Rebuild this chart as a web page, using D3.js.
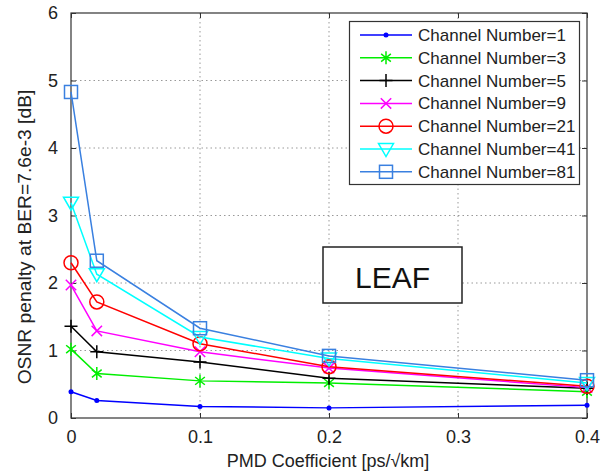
<!DOCTYPE html>
<html>
<head>
<meta charset="UTF-8">
<title>OSNR penalty vs PMD</title>
<style>
    body { margin: 0; background: #fff; }
    svg { font-family: "Liberation Sans", Arial, sans-serif; }
    .grid line { stroke: #999; stroke-dasharray: 1.5 3; }
    .tick text { font-size: 18px; fill: #222; }
</style>
<script src="https://d3js.org/d3.v7.min.js"></script>
</head>
<body>
<svg id="chart" width="610" height="475"></svg>
<script>
// data
const pmd = [0, 0.02, 0.1, 0.2, 0.4];
const channels = ["1", "3", "5", "9", "21", "41", "81"];
const ch1 = [0.39, 0.26, 0.17, 0.15, 0.19];
const ch3 = [1.02, 0.66, 0.55, 0.52, 0.39];
const ch5 = [1.36, 0.98, 0.83, 0.59, 0.44];
const ch9 = [1.97, 1.29, 0.98, 0.74, 0.45];
const ch21 = [2.30, 1.72, 1.10, 0.76, 0.47];
const ch41 = [3.19, 2.13, 1.20, 0.88, 0.52];
const ch81 = [4.83, 2.33, 1.33, 0.92, 0.56];
const xTicks = [0, 0.1, 0.2, 0.3, 0.4];
const yTicks = [0, 1, 2, 3, 4, 5, 6];

const series = [ch1, ch3, ch5, ch9, ch21, ch41, ch81];
const colors = ["#0000ff", "#00ee00", "#000000", "#ff00ff", "#ff0000", "#00ffff", "#3a80e0"];
const markers = ["dot", "star", "plus", "cross", "circle", "tri", "square"];

const svg = d3.select('#chart');
const m = {left: 71, top: 13, right: 587, bottom: 418};

const x = d3.scaleLinear().domain([0, 0.4]).range([m.left, m.right]);
const y = d3.scaleLinear().domain([0, 6]).range([m.bottom, m.top]);

// grid
const grid = svg.append('g').classed('grid', true);
grid.selectAll('.gx').data(xTicks.slice(1, -1)).enter().append('line')
    .attr('x1', d => x(d)).attr('x2', d => x(d))
    .attr('y1', m.top).attr('y2', m.bottom);
grid.selectAll('.gy').data(yTicks.slice(1, -1)).enter().append('line')
    .attr('x1', m.left).attr('x2', m.right)
    .attr('y1', d => y(d)).attr('y2', d => y(d));

// axes (matlab style, ticks inside, on all four sides)
svg.append('g').attr('transform', `translate(0,${m.bottom})`)
    .call(d3.axisBottom(x).tickValues(xTicks).tickSize(-5).tickPadding(12)
        .tickFormat(d => d === 0 ? '0' : d3.format('.1f')(d)))
    .call(g => g.select('.domain').remove());
svg.append('g').attr('transform', `translate(${m.left},0)`)
    .call(d3.axisLeft(y).tickValues(yTicks).tickSize(-5).tickPadding(13).tickFormat(d3.format('d')))
    .call(g => g.select('.domain').remove());
svg.append('g').attr('transform', `translate(0,${m.top})`)
    .call(d3.axisTop(x).tickValues(xTicks).tickSize(-5).tickFormat(''))
    .call(g => g.select('.domain').remove());
svg.append('g').attr('transform', `translate(${m.right},0)`)
    .call(d3.axisRight(y).tickValues(yTicks).tickSize(-5).tickFormat(''))
    .call(g => g.select('.domain').remove());
svg.selectAll('.tick line').attr('stroke', '#333');

svg.append('rect')
    .attr('x', m.left).attr('y', m.top)
    .attr('width', m.right - m.left).attr('height', m.bottom - m.top)
    .attr('fill', 'none').attr('stroke', '#333').attr('stroke-width', 1.2);

// marker shapes
function marker(g, type, color) {
    const s = 6.5;
    if (type === 'dot') {
        g.append('circle').attr('r', 2.5).attr('fill', color);
    } else if (type === 'circle') {
        g.append('circle').attr('r', s + 0.5).attr('fill', 'none').attr('stroke', color).attr('stroke-width', 1.5);
    } else if (type === 'square') {
        g.append('rect').attr('x', -s).attr('y', -s).attr('width', 2 * s).attr('height', 2 * s)
            .attr('fill', 'none').attr('stroke', color).attr('stroke-width', 1.5);
    } else if (type === 'tri') {
        g.append('path').attr('d', `M${-s - 1},${-s + 1}L${s + 1},${-s + 1}L0,${s + 1}Z`)
            .attr('fill', 'none').attr('stroke', color).attr('stroke-width', 1.5);
    } else {
        let p = '';
        if (type === 'plus') p = `M${-s},0L${s},0M0,${-s}L0,${s}`;
        if (type === 'cross') {
            const c = s * 0.8;
            p = `M${-c},${-c}L${c},${c}M${-c},${c}L${c},${-c}`;
        }
        if (type === 'star') p = `M0,${-s}L0,${s}` + `M${-s*0.75},${-s*0.6}L${s*0.75},${s*0.6}M${-s*0.75},${s*0.6}L${s*0.75},${-s*0.6}`;
        g.append('path').attr('d', p).attr('stroke', color).attr('stroke-width', 1.5).attr('fill', 'none');
    }
}

const line = d3.line().x((d, i) => x(pmd[i])).y(d => y(d));

series.forEach((vals, k) => {
    svg.append('path').datum(vals)
        .attr('d', line)
        .attr('fill', 'none')
        .attr('stroke', colors[k])
        .attr('stroke-width', 1.5);
    svg.selectAll('.mk' + k).data(vals).enter().append('g')
        .attr('transform', (d, i) => `translate(${x(pmd[i])},${y(d)})`)
        .each(function () { marker(d3.select(this), markers[k], colors[k]); });
});

// legend
const leg = svg.append('g');
leg.append('rect').attr('x', 349.5).attr('y', 21.5).attr('width', 230).attr('height', 163)
    .attr('fill', '#fff').attr('stroke', '#333').attr('stroke-width', 1.2);
channels.forEach((c, k) => {
    const ly = 35 + k * 22.8;
    leg.append('line').attr('x1', 360).attr('x2', 412).attr('y1', ly).attr('y2', ly)
        .attr('stroke', colors[k]).attr('stroke-width', 1.5);
    marker(leg.append('g').attr('transform', `translate(386,${ly})`), markers[k], colors[k]);
    leg.append('text').attr('x', 418).attr('y', ly + 6)
        .attr('font-size', 17).attr('fill', '#222')
        .text('Channel Number=' + c);
});

// LEAF label box
svg.append('rect').attr('x', 323).attr('y', 247).attr('width', 139).attr('height', 56)
    .attr('fill', '#fff').attr('stroke', '#222').attr('stroke-width', 1.5);
svg.append('text').attr('x', 392.5).attr('y', 288).attr('text-anchor', 'middle')
    .attr('font-size', 30).attr('fill', '#111').text('LEAF');

// axis titles
svg.append('text').attr('x', 328).attr('y', 467)
    .attr('text-anchor', 'middle').attr('font-size', 18).attr('fill', '#222')
    .text('PMD Coefficient [ps/\u221Akm]');
svg.append('text').attr('transform', `translate(31,237) rotate(-90) scale(1.07,1)`)
    .attr('text-anchor', 'middle').attr('font-size', 18).attr('fill', '#222')
    .text('OSNR penalty at BER=7.6e-3 [dB]');
</script>
</body>
</html>
